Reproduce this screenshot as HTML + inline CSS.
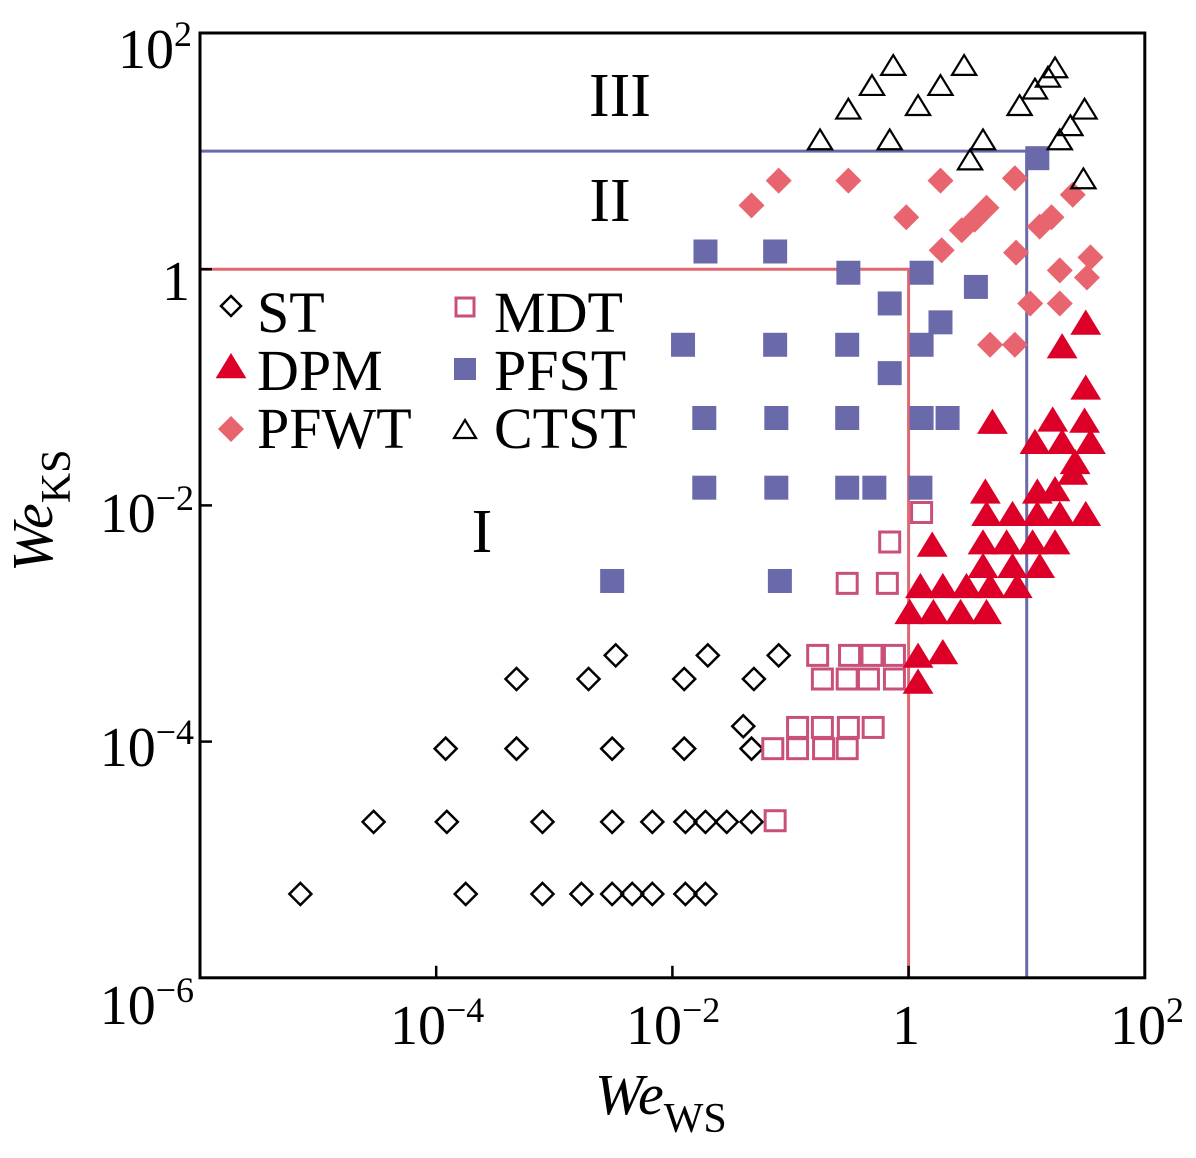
<!DOCTYPE html>
<html><head><meta charset="utf-8"><style>
body{margin:0;background:#fff}
svg text{font-family:"Liberation Serif","Times New Roman",serif;fill:#000}
</style></head><body>
<svg width="1196" height="1153" xmlns="http://www.w3.org/2000/svg">
<g id="marks"></g>
<g id="axes"></g>
</svg>
<script>
// log10 values
const stX=[-5.15,-3.75,-3.10,-2.77,-2.51,-2.34,-2.17,-1.89,-1.72,-4.53,-3.91,-3.10,-2.51,-2.17,-1.89,-1.72,-1.54,-1.33,-3.92,-3.32,-2.51,-1.90,-1.33,-1.40,-3.32,-2.71,-1.90,-1.31,-2.48,-1.70,-1.10];
const stY=[-5.29,-5.29,-5.29,-5.29,-5.29,-5.29,-5.29,-5.29,-5.29,-4.68,-4.68,-4.68,-4.68,-4.68,-4.68,-4.68,-4.68,-4.68,-4.06,-4.06,-4.06,-4.06,-4.06,-3.87,-3.47,-3.47,-3.47,-3.47,-3.27,-3.27,-3.27];
const mdtX=[-1.13,-1.15,-0.94,-0.72,-0.52,-0.94,-0.73,-0.51,-0.30,-0.73,-0.52,-0.34,-0.12,-0.77,-0.50,-0.31,-0.12,-0.52,-0.18,-0.16,0.11];
const mdtY=[-4.67,-4.06,-4.06,-4.06,-4.06,-3.88,-3.88,-3.88,-3.88,-3.47,-3.47,-3.47,-3.47,-3.27,-3.27,-3.27,-3.27,-2.66,-2.66,-2.31,-2.06];
const pfstX=[-2.51,-1.09,-1.73,-1.12,-0.52,-0.29,0.10,-1.73,-1.12,-0.52,0.11,0.33,-1.91,-1.13,-0.52,0.11,-0.16,0.27,-0.16,0.57,-0.51,0.11,-1.72,-1.13,1.09];
const pfstY=[-2.64,-2.64,-1.85,-1.85,-1.85,-1.85,-1.85,-1.26,-1.26,-1.26,-1.26,-1.26,-0.64,-0.64,-0.64,-0.64,-0.88,-0.45,-0.29,-0.15,-0.03,-0.03,0.15,0.15,0.94];
const pfwtX=[-1.33,-1.10,-0.51,-0.02,0.27,0.28,0.45,0.56,0.66,0.90,0.91,1.11,1.21,1.39,1.28,1.51,1.54,1.03,1.28,0.69,0.90];
const pfwtY=[0.54,0.75,0.75,0.44,0.75,0.16,0.33,0.42,0.52,0.77,0.14,0.36,0.44,0.63,-0.01,-0.07,0.10,-0.29,-0.29,-0.64,-0.64];
const ctstX=[-0.75,-0.51,-0.31,-0.13,-0.16,0.08,0.27,0.47,0.52,0.63,0.94,1.07,1.18,1.24,1.28,1.37,1.49,1.48];
const ctstY=[1.09,1.35,1.55,1.72,1.09,1.38,1.55,1.72,0.92,1.09,1.38,1.52,1.62,1.70,1.09,1.21,1.35,0.76];
const dpmX=[1.50,1.30,1.50,0.71,1.22,1.49,1.07,1.30,1.54,1.41,1.39,0.65,1.09,1.24,0.66,0.88,1.09,1.28,1.50,0.20,0.63,0.83,1.05,1.24,0.63,0.88,1.11,0.69,0.92,0.10,0.29,0.49,0.01,0.21,0.44,0.66,0.08,0.29,0.08];
const dpmY=[-0.46,-0.66,-1.01,-1.30,-1.28,-1.29,-1.47,-1.47,-1.47,-1.64,-1.73,-1.89,-1.89,-1.87,-2.08,-2.08,-2.08,-2.08,-2.08,-2.34,-2.32,-2.32,-2.32,-2.32,-2.52,-2.52,-2.52,-2.69,-2.69,-2.69,-2.69,-2.69,-2.91,-2.91,-2.91,-2.91,-3.28,-3.25,-3.50];
const L=200,T=33,D=118.1;
const sx=v=>L+(v+6)*D, sy=v=>T+(2-v)*D;
const NS="http://www.w3.org/2000/svg";
const marks=document.getElementById('marks'), axes=document.getElementById('axes');
function mk(tag,a,p){const e=document.createElementNS(NS,tag);for(const k in a)e.setAttribute(k,a[k]);(p||marks).appendChild(e);return e;}
let e;
e=mk('polyline',{points:`${sx(-6)},${sy(0)} ${sx(0)},${sy(0)} ${sx(0)},${sy(-6)}`,fill:'none',stroke:'#e06870','stroke-width':3});


e=mk('polyline',{points:`${sx(-6)},${sy(1)} ${sx(1)},${sy(1)} ${sx(1)},${sy(-6)}`,fill:'none',stroke:'#6a6aaa','stroke-width':3});


function diamond(x,y,s,fill,stroke,p){return mk('polygon',{points:`${x},${y-s} ${x+s},${y} ${x},${y+s} ${x-s},${y}`,fill:fill,stroke:stroke,'stroke-width':2.5},p);}
function square(x,y,s,fill,stroke,p){return mk('rect',{x:x-s,y:y-s,width:2*s,height:2*s,fill:fill,stroke:stroke,'stroke-width':fill=='none'?3:0},p);}
function tri(x,y,s,fill,stroke,p){return mk('polygon',{points:`${x},${y-s} ${x+s*1.1},${y+s*0.8} ${x-s*1.1},${y+s*0.8}`,fill:fill,stroke:stroke,'stroke-width':2.2},p);}
stX.forEach((v,i)=>{e=diamond(sx(v),sy(stY[i]),11,'none','#000');

});
mdtX.forEach((v,i)=>{e=square(sx(v),sy(mdtY[i]),10,'none','#c8507a');

});
pfstX.forEach((v,i)=>{e=square(sx(v),sy(pfstY[i]),12,'#6a6aaa','none');

});
pfwtX.forEach((v,i)=>{e=diamond(sx(v),sy(pfwtY[i]),13,'#e8646e','none');

});
ctstX.forEach((v,i)=>{e=tri(sx(v),sy(ctstY[i]),11,'none','#000');

});
dpmX.forEach((v,i)=>{e=tri(sx(v),sy(dpmY[i]),14,'#dc0028','none');

});
e=mk('rect',{x:L,y:T,width:8*D,height:8*D,fill:'none',stroke:'#000','stroke-width':3},axes);


for(const d of [-4,-2,0]){
 mk('line',{x1:L,y1:sy(d),x2:L+12,y2:sy(d),stroke:'#000','stroke-width':2.5},axes);
 mk('line',{x1:sx(d),y1:sy(-6),x2:sx(d),y2:sy(-6)-12,stroke:'#000','stroke-width':2.5},axes);
}
function txt(x,y,s,size,anchor,name,p){const t=mk('text',{x:x,y:y,'font-size':size,'text-anchor':anchor||'start','font-family':'Liberation Serif, Times New Roman, serif'},p||axes);t.innerHTML=s;return t;}
const TS=56, SS=36;
txt(192,68,`10<tspan font-size="${SS}" dy="-22">2</tspan>`,TS,'end','y-tick-100');
txt(190,300,'1',TS,'end','y-tick-1');
txt(194,532,`10<tspan font-size="${SS}" dy="-22">−2</tspan>`,TS,'end','y-tick-0.01');
txt(194,766,`10<tspan font-size="${SS}" dy="-22">−4</tspan>`,TS,'end','y-tick-1e-4');
txt(194,1024,`10<tspan font-size="${SS}" dy="-22">−6</tspan>`,TS,'end','y-tick-1e-6');
txt(390,1044,`10<tspan font-size="${SS}" dy="-22">−4</tspan>`,TS,'start','x-tick-1e-4');
txt(626,1044,`10<tspan font-size="${SS}" dy="-22">−2</tspan>`,TS,'start','x-tick-0.01');
txt(906,1044,'1',TS,'middle','x-tick-1');
txt(1110,1044,`10<tspan font-size="${SS}" dy="-22">2</tspan>`,TS,'start','x-tick-100');
txt(595,1114,'<tspan font-style="italic">We</tspan><tspan font-size="42" dy="18">WS</tspan>',58,'start','x-axis-title');
const yt=txt(0,0,'<tspan font-style="italic">We</tspan><tspan font-size="42" dy="18">KS</tspan>',58,'start','y-axis-title');
yt.setAttribute('transform','translate(52,572) rotate(-90)');
txt(620,116,'III',62,'middle','region-iii-label');
txt(610,221,'II',62,'middle','region-ii-label');
txt(482,552,'I',62,'middle','region-i-label');
const lg=mk('g',{},axes);
diamond(231,306,10,'none','#000',lg);txt(257,332,'ST',58,'start','legend-st',lg);
tri(231,367,14,'#dc0028','none',lg);txt(257,390,'DPM',58,'start','legend-dpm',lg);
diamond(231,429,13,'#e8646e','none',lg);txt(257,448,'PFWT',58,'start','legend-pfwt',lg);
square(465,307,9,'none','#c8507a',lg);txt(494,332,'MDT',58,'start','legend-mdt',lg);
square(465,369,11,'#6a6aaa','none',lg);txt(494,390,'PFST',58,'start','legend-pfst',lg);
tri(465,430,10,'none','#000',lg);txt(494,448,'CTST',58,'start','legend-ctst',lg);
</script>
</body></html>
